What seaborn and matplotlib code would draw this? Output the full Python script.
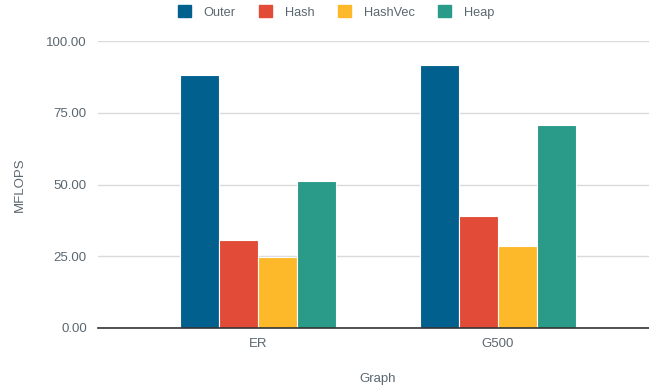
import matplotlib
matplotlib.use("Agg")
import matplotlib.pyplot as plt
import seaborn as sns
import pandas as pd
from matplotlib.patches import Patch

graphs = ["ER", "G500"]
methods = ["Outer", "Hash", "HashVec", "Heap"]
outer = [88.1, 91.6]
hash_ = [30.5, 39.1]
hashvec = [24.8, 28.7]
heap = [51.2, 70.9]

colors = ["#01608E", "#E24B37", "#FDB92A", "#2A9A89"]
text_color = "#5B6770"

rows = []
for vals, m in zip([outer, hash_, hashvec, heap], methods):
    for g, v in zip(graphs, vals):
        rows.append({"Graph": g, "Method": m, "MFLOPS": v})
df = pd.DataFrame(rows)

sns.set_theme(style="white")
plt.rcParams["font.family"] = ["Liberation Sans", "DejaVu Sans"]

fig = plt.figure(figsize=(6.49, 3.91), dpi=100)
ax = fig.add_axes([98 / 649, 1 - 328 / 391, 1 - 98 / 649, (328 - 41) / 391])

sns.barplot(data=df, x="Graph", y="MFLOPS", hue="Method", hue_order=methods,
            order=graphs, palette=colors, width=0.65, edgecolor="white",
            linewidth=0.8, saturation=1, legend=False, ax=ax)

ax.set_xlim(-0.667, 1.629)
ax.set_ylim(0, 100)
ax.set_yticks([0, 25, 50, 75, 100])
ax.set_yticklabels([f"{t:.2f}" for t in [0, 25, 50, 75, 100]])
ax.yaxis.grid(True, color="#DADADA", linewidth=1)
ax.set_axisbelow(True)
for s in ["top", "right", "left"]:
    ax.spines[s].set_visible(False)
ax.spines["bottom"].set_color("#333333")
ax.spines["bottom"].set_linewidth(1.2)
ax.tick_params(axis="both", length=0, colors=text_color, labelsize=9.5)
ax.tick_params(axis="y", pad=8)
ax.tick_params(axis="x", pad=7)

ax.set_xlabel("Graph", color=text_color, fontsize=9.5, va="center")
ax.set_ylabel("MFLOPS", color=text_color, fontsize=9.5, va="center")
ax.xaxis.set_label_coords((378 - 98) / 551, (328 - 379) / 287)
ax.yaxis.set_label_coords((20 - 98) / 551, (328 - 185) / 287)

handles = [Patch(facecolor=c, edgecolor=c, label=m) for c, m in zip(colors, methods)]
fig.legend(handles=handles, loc="center", bbox_to_anchor=(336 / 649, 1 - 12 / 391),
           ncol=4, frameon=False, fontsize=9.2, handlelength=1.0, handleheight=1.0,
           handletextpad=1.0, columnspacing=1.85, labelcolor=text_color)

fig.savefig("out.png", dpi=100)
